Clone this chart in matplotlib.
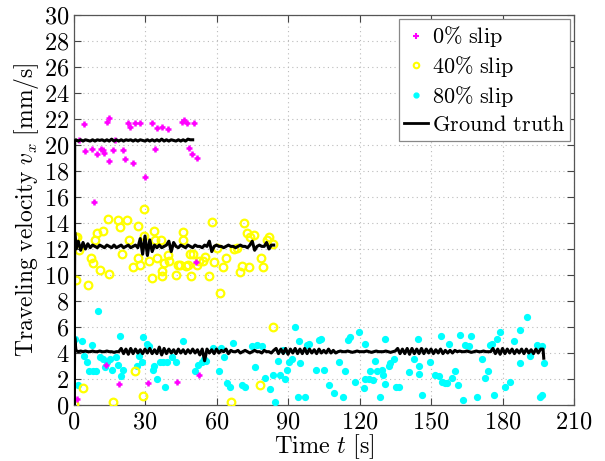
import matplotlib
matplotlib.use("Agg")
import matplotlib.pyplot as plt
from matplotlib.lines import Line2D
from matplotlib.ticker import FuncFormatter

plt.rcParams['font.family'] = ['DejaVu Serif']
plt.rcParams['mathtext.fontset'] = 'cm'

# ---------------- data ----------------
# 0% slip measurements (t [s], v [mm/s])
slip0_t = [4.6, 2.5, 4.9, 7.7, 9.8, 11.6, 12.3, 12.9, 14.1, 15.0, 15.1, 16.5, 17.6,
           20.7, 21.8, 23.0, 23.8, 24.9, 25.8, 28.0, 30.2, 33.0, 34.1, 35.0, 37.2,
           39.5, 45.4, 46.5, 47.6, 50.4, 48.4, 49.6, 51.7, 8.7, 51.4,
           1.4, 13.7, 19.0, 31.2, 43.4, 52.6]
slip0_v = [21.6, 20.4, 19.5, 19.7, 19.3, 19.7, 19.6, 19.4, 21.8, 22.1, 18.8, 19.6, 20.4,
           19.6, 18.9, 21.7, 21.4, 18.6, 21.7, 21.7, 17.5, 21.7, 19.7, 21.3, 21.4,
           21.2, 21.8, 21.9, 21.7, 21.7, 19.8, 19.3, 19.0, 15.6, 11.0,
           0.45, 3.1, 1.6, 1.7, 1.8, 2.3]

# 40% slip measurements
slip40_t = [1.6, 0.9, 2.4, 6.2, 7.2, 8.1, 9.0, 10.0, 11.1, 12.5, 14.6, 15.0, 18.6,
            19.5, 20.4, 22.6, 23.4, 24.8, 27.2, 27.2, 27.9, 29.6, 29.6, 31.8, 32.8,
            33.8, 34.2, 34.9, 36.6, 37.0, 37.0, 38.1, 39.8, 40.1, 43.1, 43.8, 44.7,
            46.1, 46.1, 47.2, 48.2, 48.9, 49.5, 50.3, 51.7, 52.7, 54.3, 55.2, 57.0,
            58.0, 59.1, 60.1, 61.5, 62.6, 63.9, 67.5, 68.5, 69.9, 70.8, 71.6, 72.7,
            73.7, 74.1, 75.9, 78.7, 79.5, 81.1, 82.2, 83.7, 0.6,
            83.9, 25.8, 4.1, 16.5, 29.1, 66.0, 78.3, 0.1]
slip40_v = [12.9, 9.6, 11.9, 9.2, 11.3, 10.9, 12.7, 13.2, 10.4, 13.4, 14.3, 10.1, 14.2,
            13.7, 11.6, 14.2, 12.7, 10.6, 13.8, 11.3, 10.8, 15.1, 13.0, 11.1, 9.8,
            13.4, 12.7, 11.3, 12.7, 10.3, 9.9, 10.9, 11.5, 11.1, 10.0, 10.8, 10.8,
            13.3, 12.7, 10.7, 10.8, 11.6, 9.9, 11.6, 10.8, 11.1, 11.1, 11.4, 9.9,
            14.1, 11.0, 12.1, 8.6, 10.6, 11.3, 12.0, 12.1, 10.2, 10.7, 14.0, 13.2,
            10.6, 12.9, 13.1, 11.3, 10.6, 12.7, 12.9, 12.4, 12.9,
            6.0, 2.6, 1.3, 0.2, 0.7, 0.25, 1.5, 0.1]

# 80% slip measurements
slip80_t = [0.6, 3.4, 2.0, 4.4, 5.5, 6.6, 7.9, 8.0, 9.3, 10.2, 11.1, 12.3, 13.2, 13.9,
            15.3, 16.3, 17.8, 18.6, 19.5, 19.9, 20.9, 26.5, 27.5, 28.6, 29.3, 30.7,
            31.8, 33.3, 33.8, 34.9, 36.3, 37.5, 38.4, 39.4, 41.2, 43.0, 45.9, 51.0,
            52.4, 53.8, 54.8, 55.6, 58.5, 61.2, 61.9, 63.2, 64.6, 65.7, 66.9, 70.6,
            72.0, 74.8, 76.2, 76.9, 79.0, 80.4, 82.5, 83.6, 84.6, 85.6, 86.7, 87.9,
            88.8, 89.5, 90.6, 91.6, 93.0, 94.2, 94.8, 95.1, 97.2, 97.9, 98.6,
            101.8, 102.8, 103.9, 105.2, 107.4, 109.1, 111.2, 113.1, 114.0, 115.0,
            116.1, 117.9, 119.6, 121.7, 122.4, 122.4, 123.8, 124.5, 125.5, 126.3,
            127.3, 128.4, 129.4, 129.9, 130.5, 130.5, 132.2, 132.9, 134.3, 135.4,
            136.4, 140.6, 142.7, 144.4, 144.8, 144.8, 146.2, 149.7, 151.8, 153.2,
            154.3, 154.6, 155.7, 156.7, 157.4, 158.8, 160.2, 161.4, 162.3, 163.5,
            164.4, 165.8, 166.9, 169.3, 171.4, 172.8, 173.8, 174.6, 175.6, 176.6,
            177.7, 178.8, 181.2, 183.0, 185.0, 187.2, 187.2, 190.3, 191.7, 194.5,
            195.9, 196.6, 197.6, 196.6]
slip80_v = [5.1, 4.9, 1.5, 3.8, 3.3, 2.6, 4.6, 2.6, 2.6, 7.2, 3.7, 3.5, 2.9, 3.3,
            3.5, 2.7, 3.7, 3.1, 5.3, 2.2, 2.7, 3.0, 3.8, 3.3, 5.2, 4.7,
            4.5, 2.7, 3.0, 2.0, 3.3, 3.3, 1.4, 3.3, 3.7, 3.3, 4.9, 2.6,
            3.1, 3.3, 3.5, 3.4, 4.4, 2.6, 4.4, 3.7, 1.7, 1.4, 4.8, 1.5,
            1.4, 4.5, 2.9, 4.6, 4.5, 2.1, 1.2, 2.3, 0.2, 3.4, 2.3, 4.2,
            2.0, 2.7, 3.3, 3.5, 6.0, 0.6, 4.9, 3.2, 0.6, 4.6, 4.7,
            2.7, 5.0, 5.1, 2.7, 1.5, 0.9, 3.3, 0.6, 2.6, 5.0,
            5.2, 1.8, 5.6, 1.3, 4.7, 2.0, 2.0, 2.6, 1.9, 3.4,
            2.6, 0.6, 2.7, 2.3, 5.1, 1.6, 3.0, 3.2, 3.5, 1.4,
            1.4, 2.5, 3.5, 5.1, 3.0, 2.4, 0.8, 3.3, 2.3, 2.2,
            5.3, 1.8, 1.7, 1.7, 4.7, 2.1, 2.6, 1.5, 5.4, 0.4,
            4.6, 4.5, 5.3, 0.6, 3.5, 2.1, 2.6, 4.6, 4.7, 0.8,
            5.1, 5.6, 1.4, 1.8, 4.9, 5.8, 3.2, 6.8, 3.8, 4.6,
            0.6, 0.8, 3.2, 4.5]

# Ground truth (start ramp, then once per second)
gt0_t = [0.3, 0.5] + list(range(1, 51))
gt0_v = [0.0, 20.3,
         20.4, 20.3, 20.4, 20.3, 20.4, 20.35, 20.3, 20.4, 20.3, 20.4,
         20.35, 20.4, 20.3, 20.4, 20.3, 20.45, 20.3, 20.4, 20.3, 20.4,
         20.3, 20.4, 20.35, 20.4, 20.3, 20.4, 20.3, 20.4, 20.35, 20.3,
         20.4, 20.3, 20.4, 20.3, 20.4, 20.3, 20.45, 20.3, 20.4, 20.3,
         20.4, 20.35, 20.3, 20.4, 20.3, 20.4, 20.3, 20.45, 20.4, 20.4]

gt40_t = [0.3, 0.5] + list(range(1, 85))
gt40_v = [0.0, 13.3,
          12.0, 12.6, 11.9, 12.5, 12.0, 12.4,
          12.1, 12.3, 12.2, 12.1, 12.3, 12.2, 12.1, 12.3, 12.2, 12.1, 12.3, 12.1,
          12.2, 12.3, 12.1, 12.2, 12.3, 12.1, 12.2, 12.3, 12.1,
          12.8, 11.6, 13.0, 11.5, 12.7, 11.8,
          12.3, 12.1, 12.3, 12.1, 12.2, 12.3,
          12.6, 11.8, 12.5,
          12.2, 12.1, 12.3, 12.2, 12.1, 12.3, 12.2, 12.1, 12.3, 12.2, 12.2, 12.1, 12.3, 12.2,
          12.6, 11.8,
          12.2, 12.3, 12.2, 12.2, 12.1, 12.2, 12.3, 12.2, 12.2, 12.1, 12.2, 12.3, 12.2, 12.2, 12.1, 12.3,
          12.6,
          11.9, 12.2, 12.3, 12.2, 12.2, 12.5, 12.0, 12.3, 12.3]

gt80_t = [0.3, 0.5] + list(range(1, 198)) + [197.3]
gt80_v = [0.0, 5.2,
          4.2, 4.1, 4.15, 4.1, 4.15, 4.1, 4.1, 4.15, 4.1, 4.1, 4.15, 4.1, 4.1, 4.15, 4.1, 4.1, 4.05, 4.1, 4.1,
          4.35, 3.95, 4.3, 3.9, 4.35, 3.95, 4.3, 4.0, 4.25, 3.95,
          4.3, 4.0, 4.35, 3.95, 4.25, 3.95, 4.45, 3.85, 4.35, 3.95,
          4.3, 4.0, 4.25, 3.95, 4.3, 4.0, 4.25, 3.95, 4.25, 4.0,
          4.3, 4.0, 4.25, 3.85, 4.3, 3.4, 4.3, 4.0, 4.25, 3.95,
          4.3,
          4.0, 4.2, 4.1, 4.3, 3.95, 4.2, 4.1, 4.1, 4.2, 4.0,
          4.1, 4.2, 4.1, 4.0, 4.1, 4.2, 4.1, 4.1, 4.0, 4.2,
          4.1, 4.1, 4.0, 4.2,
          4.35, 3.95, 4.3, 3.95, 4.35, 3.9, 4.3, 4.0, 4.35, 3.95,
          4.3, 3.95, 4.35, 3.95, 4.3, 4.0, 4.25, 3.95, 4.3, 4.0,
          4.2, 4.0, 4.3, 4.0, 4.2, 4.0,
          4.1, 4.15, 4.1, 4.1, 4.15, 4.1, 4.05, 4.1, 4.15, 4.1,
          4.1, 4.1, 4.15, 4.1, 4.05, 4.1, 4.15, 4.1, 4.1, 4.1,
          4.15, 4.1, 4.05, 4.1, 4.15,
          4.35, 3.95, 4.3, 3.95, 4.35, 3.9, 4.35, 3.95, 4.3, 3.95,
          4.35, 3.95, 4.3, 4.0, 4.3, 3.95, 4.25, 4.0, 4.3, 3.95,
          4.2, 4.0, 4.2, 4.0, 4.2,
          4.1, 4.15, 4.1, 4.1, 4.15, 4.1, 4.05, 4.1, 4.15, 4.1, 4.1, 4.15, 4.1, 4.1, 4.1,
          4.35, 3.95, 4.3, 3.9, 4.35, 3.95, 4.3, 4.0, 4.3, 3.95,
          4.25, 4.0, 4.3, 3.95, 4.3, 4.0, 4.25, 3.95, 4.3, 4.0,
          4.3, 4.3,
          3.6]

labels = [r'$0\%\ \mathrm{slip}$', r'$40\%\ \mathrm{slip}$',
          r'$80\%\ \mathrm{slip}$', r'$\mathrm{Ground\ truth}$']
x_ticks = list(range(0, 211, 30))
y_ticks = list(range(0, 31, 2))

# ---------------- figure ----------------
FS = 17.5
fig = plt.figure(figsize=(6.05, 4.61), dpi=100)
ax = fig.add_axes([0.1215, 0.1215, 0.8273, 0.846])

MAG, YEL, CYA = '#ff00ff', '#ffff00', '#00ffff'

ax.plot(slip80_t, slip80_v, linestyle='none', marker='o', ms=4.2,
        mfc=CYA, mec=CYA, zorder=3)
ax.plot(slip40_t, slip40_v, linestyle='none', marker='o', ms=5.5,
        mfc='none', mec=YEL, mew=1.6, zorder=3)
ax.plot(slip0_t, slip0_v, linestyle='none', marker='+', ms=5,
        mec=MAG, mew=1.8, zorder=3)
for t, v in [(gt80_t, gt80_v), (gt40_t, gt40_v), (gt0_t, gt0_v)]:
    ax.plot(t, v, color='black', lw=2.2, zorder=4)

ax.set_xlim(0, 210)
ax.set_ylim(0, 30)
ax.set_xticks(x_ticks)
ax.set_yticks(y_ticks)
fmt = FuncFormatter(lambda val, pos: r'$%d$' % round(val))
ax.xaxis.set_major_formatter(fmt)
ax.yaxis.set_major_formatter(fmt)
ax.tick_params(direction='in', top=True, right=True, length=5, width=0.8,
               labelsize=FS, color='#444444')
ax.tick_params(axis='x', pad=4)
ax.tick_params(axis='y', pad=3)
for s in ax.spines.values():
    s.set_color('#555555')
    s.set_linewidth(0.9)
ax.grid(True, linestyle=(0, (1, 3)), color='#bbbbbb', lw=0.8)
ax.set_axisbelow(True)

ax.set_xlabel(r'$\mathrm{Time}\ t\ [\mathrm{s}]$', fontsize=FS, labelpad=-1)
ax.set_ylabel(r'$\mathrm{Traveling\ velocity}\ v_x\ [\mathrm{mm/s}]$',
              fontsize=17, labelpad=2)

handles = [
    Line2D([], [], linestyle='none', marker='+', ms=4, mec=MAG, mew=1.5),
    Line2D([], [], linestyle='none', marker='o', ms=4, mfc='none', mec=YEL, mew=1.5),
    Line2D([], [], linestyle='none', marker='o', ms=3.5, mfc=CYA, mec=CYA),
    Line2D([], [], color='black', lw=2.0),
]
leg = ax.legend(handles, labels, loc='upper right', fontsize=16,
                frameon=True, fancybox=False, framealpha=1, edgecolor='#888888',
                borderaxespad=0.2, borderpad=0.22, labelspacing=0.22,
                handlelength=1.1, handletextpad=0.15)
leg.get_frame().set_linewidth(0.9)

fig.savefig('out.png', dpi=100)
